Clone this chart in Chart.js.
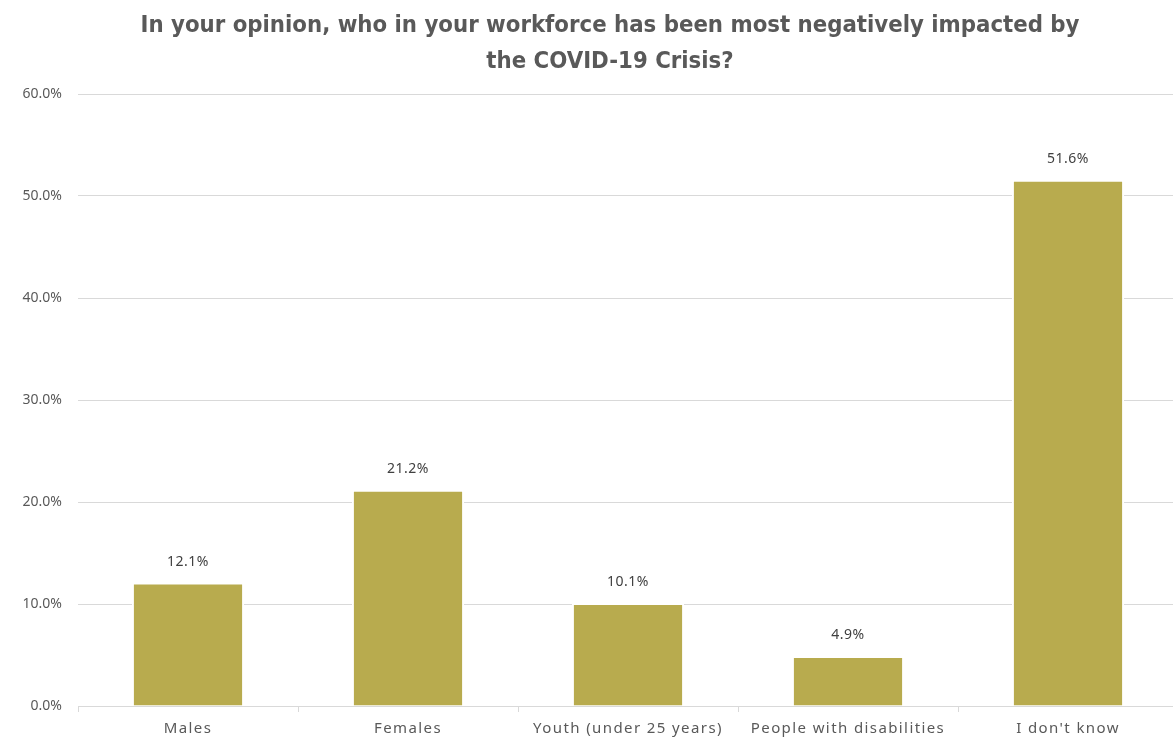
<!DOCTYPE html>
<html>
<head>
<meta charset="utf-8">
<script src="https://cdn.jsdelivr.net/npm/chart.js@4.4.1/dist/chart.umd.min.js"></script>
<style>
  html, body { margin: 0; padding: 0; background: #ffffff; overflow: hidden; }
  #wrap { position: relative; width: 1178px; height: 738px; }
</style>
</head>
<body>
<div id="wrap"><canvas id="c"></canvas></div>
<script>
const categories = ["Males", "Females", "Youth (under 25 years)", "People with disabilities", "I don't know"];
const values = [12.1, 21.2, 10.1, 4.9, 51.6];
const yTicks = [0, 10, 20, 30, 40, 50, 60];
const titleLines = ["In your opinion, who in your workforce has been most negatively impacted by", "the COVID-19 Crisis?"];

const textColor = "#595959";
const gridColor = "#d9d9d9";
const barColor = "#b8ab4e";

const titlePlugin = {
  id: "titleText",
  afterDraw(chart) {
    const ctx = chart.ctx;
    ctx.save();
    ctx.letterSpacing = "0px";
    ctx.font = "bold 23.7px 'DejaVu Sans Condensed', sans-serif";
    ctx.fillStyle = textColor;
    ctx.textAlign = "center";
    ctx.textBaseline = "middle";
    ctx.fillText(titleLines[0], 610, 26);
    ctx.fillText(titleLines[1], 610, 62);
    ctx.restore();
  }
};

const dataLabels = {
  id: "dataLabels",
  afterDatasetsDraw(chart) {
    const ctx = chart.ctx;
    const meta = chart.getDatasetMeta(0);
    ctx.save();
    ctx.letterSpacing = "0.5px";
    ctx.font = "14px 'Noto Sans', sans-serif";
    ctx.fillStyle = "#404040";
    ctx.textAlign = "center";
    ctx.textBaseline = "middle";
    meta.data.forEach((bar, i) => {
      ctx.fillText(values[i].toFixed(1) + "%", bar.x, bar.y - 21);
    });
    ctx.restore();
    // spacing for x-axis labels drawn after datasets (z: 1)
    ctx.letterSpacing = "1.4px";
  }
};

new Chart(document.getElementById("c"), {
  type: "bar",
  data: {
    labels: categories,
    datasets: [{
      data: values,
      backgroundColor: barColor,
      borderColor: "#ffffff",
      borderWidth: 2,
      barPercentage: 0.51,
      categoryPercentage: 1.0
    }]
  },
  options: {
    responsive: true,
    maintainAspectRatio: false,
    animation: false,
    layout: { padding: { left: 0, right: 0, top: 94, bottom: 0 } },
    plugins: {
      legend: { display: false },
      tooltip: { enabled: false },
      title: { display: false }
    },
    scales: {
      x: {
        offset: true,
        grid: { display: true, drawOnChartArea: false, drawTicks: true, tickLength: 6, color: gridColor, offset: true },
        border: { display: true, color: gridColor, width: 1 },
        ticks: { color: textColor, font: { family: "'Noto Sans', sans-serif", size: 15 }, padding: 8, maxRotation: 0, autoSkip: false, z: 1 },
        afterFit(scale) { scale.height = 32; }
      },
      y: {
        min: 0,
        max: 60,
        afterBuildTicks(scale) { scale.ticks = yTicks.map(v => ({ value: v })); },
        grid: { color: gridColor, lineWidth: 1, drawTicks: false },
        border: { display: false },
        ticks: {
          color: textColor,
          font: { family: "'Noto Sans', sans-serif", size: 14 },
          padding: 16,
          callback: (v) => Number(v).toFixed(1) + "%"
        },
        afterFit(scale) { scale.width = 78; }
      }
    }
  },
  plugins: [dataLabels, titlePlugin]
});
</script>
</body>
</html>
